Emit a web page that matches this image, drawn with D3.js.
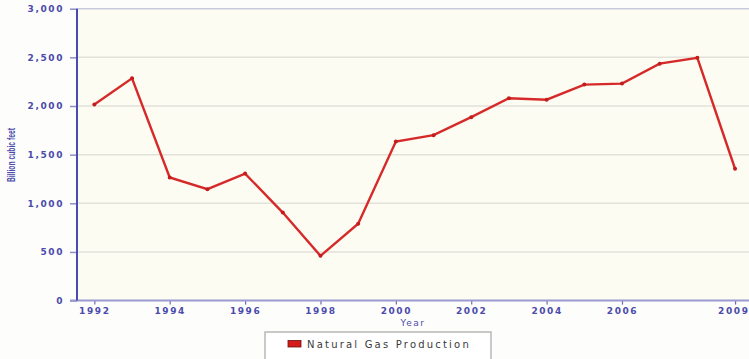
<!DOCTYPE html>
<html>
<head>
<meta charset="utf-8">
<script src="https://cdn.jsdelivr.net/npm/d3@7"></script>
<style>
  html, body { margin: 0; padding: 0; background: #fdfdfc; }
  svg { display: block; }
</style>
</head>
<body>
<svg id="chart" width="749" height="359"></svg>
<script>
// Annual natural gas production, billion cubic feet
const years = [1992, 1993, 1994, 1995, 1996, 1997, 1998, 1999, 2000,
               2001, 2002, 2003, 2004, 2005, 2006, 2007, 2008, 2009];
const production = [2015, 2285, 1265, 1145, 1305, 905, 460, 790, 1635,
                    1700, 1885, 2080, 2065, 2220, 2230, 2435, 2495, 1355];
const xTickYears = [1992, 1994, 1996, 1998, 2000, 2002, 2004, 2006, 2009];
const yTicks = [0, 500, 1000, 1500, 2000, 2500, 3000];
const seriesName = "Natural Gas Production";

const plot = { left: 77, top: 8.7, right: 749, bottom: 300.6 };

const svg = d3.select("#chart");

const x = d3.scaleLinear().domain([1991.54, 2009.37]).range([plot.left, plot.right]);
const y = d3.scaleLinear().domain([0, 3000]).range([plot.bottom, plot.top]);

const axisColor = "#4b4bab";
const labelFont = "Verdana, 'DejaVu Sans', sans-serif";

// plot background
svg.append("rect")
  .attr("x", plot.left).attr("y", plot.top)
  .attr("width", plot.right - plot.left).attr("height", plot.bottom - plot.top)
  .attr("fill", "#fcfcf3");

// horizontal grid
svg.append("g").selectAll("line")
  .data(yTicks.filter(d => d > 0 && d < 3000))
  .join("line")
  .attr("x1", plot.left).attr("x2", plot.right)
  .attr("y1", d => y(d)).attr("y2", d => y(d))
  .attr("stroke", "#e2e2da").attr("stroke-width", 1.5);

// top border
svg.append("line")
  .attr("x1", plot.left).attr("x2", plot.right)
  .attr("y1", plot.top).attr("y2", plot.top)
  .attr("stroke", "#c9c9dd").attr("stroke-width", 1.5);

// y axis
const yAxis = d3.axisLeft(y).tickValues(yTicks).tickFormat(d3.format(",")).tickSize(7).tickPadding(6);
const gy = svg.append("g").attr("transform", `translate(${plot.left},0)`).call(yAxis);
gy.select(".domain").remove();
gy.selectAll(".tick line").attr("stroke", "#8f8fc8").attr("stroke-width", 1.5);
gy.selectAll(".tick text")
  .attr("fill", axisColor)
  .attr("font-family", labelFont)
  .attr("font-size", 9)
  .attr("letter-spacing", 1.6)
  .attr("font-weight", "bold");

// x axis
const xAxis = d3.axisBottom(x).tickValues(xTickYears).tickFormat(d3.format("d")).tickSize(4).tickPadding(3);
const gx = svg.append("g").attr("transform", `translate(0,${plot.bottom})`).call(xAxis);
gx.select(".domain").remove();
gx.selectAll(".tick line").attr("stroke", "#6a6ab8").attr("stroke-width", 1.2);
gx.selectAll(".tick text")
  .attr("fill", axisColor)
  .attr("font-family", labelFont)
  .attr("font-size", 9)
  .attr("letter-spacing", 1.6)
  .attr("font-weight", "bold");
// keep the last year label inside the right edge
gx.selectAll(".tick text").filter(d => d === xTickYears[xTickYears.length - 1])
  .attr("text-anchor", "end")
  .attr("dx", 14);

// axis lines
svg.append("line")
  .attr("x1", 70).attr("x2", plot.right)
  .attr("y1", plot.bottom).attr("y2", plot.bottom)
  .attr("stroke", "#9a9ad0").attr("stroke-width", 2);
svg.append("line")
  .attr("x1", plot.left).attr("x2", plot.left)
  .attr("y1", plot.top).attr("y2", plot.bottom)
  .attr("stroke", "#4a4ab4").attr("stroke-width", 2);

// axis titles
svg.append("text")
  .attr("x", 413).attr("y", 326)
  .attr("text-anchor", "middle")
  .attr("fill", axisColor)
  .attr("font-family", labelFont)
  .attr("font-size", 9)
  .attr("letter-spacing", 1.5)
  .text("Year");

svg.append("text")
  .attr("transform", "translate(15,155) rotate(-90)")
  .attr("text-anchor", "middle")
  .attr("fill", axisColor)
  .attr("font-family", "'Liberation Sans', Arial, sans-serif")
  .attr("font-size", 10)
  .attr("font-weight", "bold")
  .attr("textLength", 54)
  .attr("lengthAdjust", "spacingAndGlyphs")
  .text("Billion cubic feet");

// series line
const pts = years.map((yr, i) => ({ yr, v: production[i] }));
const line = d3.line().x(d => x(d.yr)).y(d => y(d.v));
svg.append("path")
  .datum(pts)
  .attr("d", line)
  .attr("fill", "none")
  .attr("stroke", "#d62a2a")
  .attr("stroke-width", 2.4)
  .attr("stroke-linejoin", "miter");

svg.append("g").selectAll("circle")
  .data(pts)
  .join("circle")
  .attr("cx", d => x(d.yr)).attr("cy", d => y(d.v))
  .attr("r", 2)
  .attr("fill", "#c41c1c");

// legend
const lg = svg.append("g");
lg.append("rect")
  .attr("x", 265).attr("y", 332)
  .attr("width", 226).attr("height", 30)
  .attr("fill", "#ffffff")
  .attr("stroke", "#b8b8b8").attr("stroke-width", 1.5);
lg.append("rect")
  .attr("x", 288).attr("y", 340.5)
  .attr("width", 13).attr("height", 6.5)
  .attr("fill", "#d41c1c")
  .attr("stroke", "#6a1010").attr("stroke-width", 0.8);
lg.append("text")
  .attr("x", 307).attr("y", 347.5)
  .attr("fill", "#3a3a3a")
  .attr("font-family", labelFont)
  .attr("font-size", 10)
  .attr("letter-spacing", 2.2)
  .text(seriesName);
</script>
</body>
</html>
